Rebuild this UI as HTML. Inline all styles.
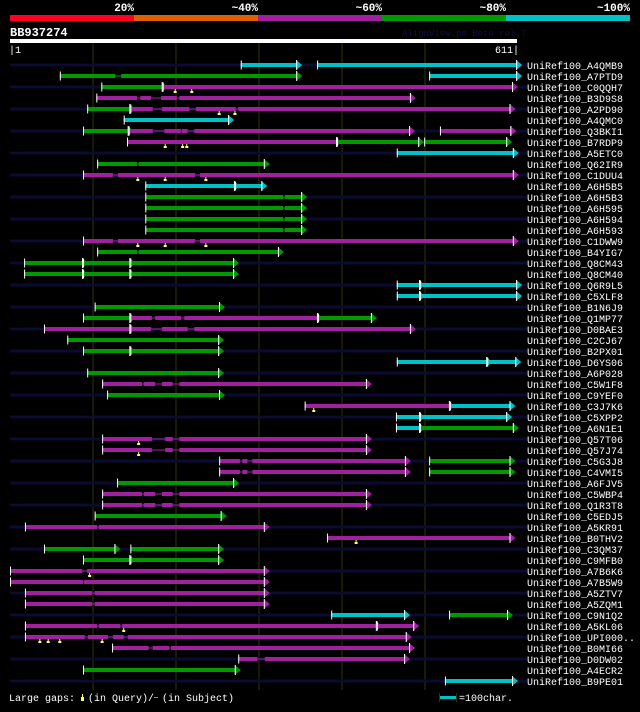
<!DOCTYPE html>
<html><head><meta charset="utf-8"><style>
body{margin:0;background:#000;width:640px;height:707px;overflow:hidden}
svg text{font-family:"Liberation Mono",monospace}
</style></head><body>
<svg id="chart" width="640" height="707" xmlns="http://www.w3.org/2000/svg">
<rect x="0" y="0" width="640" height="707" fill="#000"/>
<g>
<rect x="10" y="15" width="124" height="6" fill="#ff0022"/>
<rect x="134" y="15" width="124" height="6" fill="#e06000"/>
<rect x="258" y="15" width="124" height="6" fill="#a020a0"/>
<rect x="382" y="15" width="124" height="6" fill="#009900"/>
<rect x="506" y="15" width="124" height="6" fill="#00c0c8"/>
<g font-size="11" font-weight="bold" fill="#fff" text-anchor="end">
<text x="134" y="11">20%</text><text x="258" y="11">~40%</text><text x="382" y="11">~60%</text><text x="506" y="11">~80%</text><text x="630" y="11">~100%</text>
</g></g>
<text x="10" y="36" font-size="12" font-weight="bold" fill="#fff">BB937274</text>
<text x="402" y="36" font-size="9" fill="#101048">AlignView.pm Beta rel.7</text>
<rect x="10" y="39" width="507" height="4" fill="#fff"/>
<text x="9" y="53" font-size="10" fill="#fff">|1</text>
<text x="519" y="53" font-size="10" fill="#fff" text-anchor="end">611|</text>
<g id="grid"></g>
<g id="rows"></g>
<g font-size="10" fill="#fff">
<text x="9" y="701">Large gaps:</text>
<rect x="81" y="697" width="3" height="4" fill="#ffff66"/><rect x="82" y="694" width="1" height="3" fill="#ffff66"/>
<text x="88" y="701">(in Query)/</text>
<rect x="154" y="697" width="4" height="1" fill="#00c0c8"/>
<text x="162" y="701">(in Subject)</text>
<rect x="440" y="696" width="16" height="3" fill="#00c0c8"/>
<rect x="439" y="693" width="1" height="9" fill="#333300"/><rect x="456" y="693" width="1" height="9" fill="#333300"/>
<text x="459" y="701">=100char.</text>
</g>
</svg>
<script>
const names=["A4QMB9","A7PTD9","C0QQH7","B3D9S8","A2PD90","A4QMC0","Q3BKI1","B7RDP9","A5ETC0","Q62IR9","C1DUU4","A6H5B5","A6H5B3","A6H595","A6H594","A6H593","C1DWW9","B4YIG7","Q8CM43","Q8CM40","Q6R9L5","C5XLF8","B1N6J9","Q1MP77","D0BAE3","C2CJ67","B2PX01","D6YS06","A6P028","C5W1F8","C9YEF0","C3J7K6","C5XPP2","A6N1E1","Q57T06","Q57J74","C5G3J8","C4VMI5","A6FJV5","C5WBP4","Q1R3T8","C5EDJ5","A5KR91","B0THV2","C3QM37","C9MFB0","A7B6K6","A7B5W9","A5ZTV7","A5ZQM1","C9N1Q2","A5KL06","UPI000..","B0MI66","D0DW02","A4ECR2","B9PE01"];
// segments: [colorKey, [[start,end],...]] in query residue positions
const M="m",G="g",C="c";
const segs=[
[[C,[[278,346]]],[C,[[370,611]]]],
[[G,[[60,127],[134,346]]],[C,[[505,611]]]],
[[G,[[110,184]]],[M,[[184,606]]]],
[[M,[[104,153],[157,170],[182,201],[204,483]]]],
[[G,[[93,145]]],[M,[[145,172],[183,216],[224,272],[275,603]]]],
[[C,[[137,264]]]],
[[G,[[88,143]]],[M,[[143,172],[186,206],[207,214],[222,482]]],[M,[[518,604]]]],
[[M,[[141,394]]],[G,[[394,493]]],[G,[[499,599]]]],
[[C,[[466,607]]]],
[[G,[[105,153],[155,307]]]],
[[M,[[88,124],[130,223],[229,607]]]],
[[C,[[163,271]]],[C,[[271,304]]]],
[[G,[[163,329],[331,352]]]],
[[G,[[163,329],[331,352]]]],
[[G,[[163,329],[331,352]]]],
[[G,[[163,329],[331,352]]]],
[[M,[[88,124],[130,223],[229,607]]]],
[[G,[[105,153],[155,324]]]],
[[G,[[17,88]]],[G,[[88,145]]],[G,[[145,270]]]],
[[G,[[17,88]]],[G,[[88,145]]],[G,[[145,270]]]],
[[C,[[466,494]]],[C,[[494,611]]]],
[[C,[[466,494]]],[C,[[494,611]]]],
[[G,[[102,253]]]],
[[G,[[88,145]]],[M,[[145,171],[175,206],[210,371]]],[G,[[371,436]]]],
[[M,[[41,145]]],[M,[[145,170],[183,214],[222,483]]]],
[[G,[[69,252]]]],
[[G,[[88,145]]],[G,[[145,252]]]],
[[C,[[466,575]]],[C,[[575,610]]]],
[[G,[[93,252]]]],
[[M,[[111,159],[161,175],[183,196],[204,430]]]],
[[G,[[117,253]]]],
[[M,[[355,530]]],[C,[[530,603]]]],
[[C,[[465,494]]],[C,[[494,599]]]],
[[C,[[465,494]]],[G,[[494,607]]]],
[[M,[[111,171],[187,196],[204,430]]]],
[[M,[[111,171],[187,196],[204,430]]]],
[[M,[[252,277],[280,286],[292,477]]],[G,[[505,603]]]],
[[M,[[252,277],[280,286],[292,477]]],[G,[[505,603]]]],
[[G,[[129,270]]]],
[[M,[[111,159],[161,175],[183,196],[204,430]]]],
[[M,[[111,159],[161,175],[183,196],[204,430]]]],
[[G,[[102,255]]]],
[[M,[[18,105],[107,307]]]],
[[M,[[382,603]]]],
[[G,[[41,127]]],[G,[[145,252]]]],
[[G,[[88,145]]],[G,[[145,252]]]],
[[M,[[0,87],[93,307]]]],
[[M,[[0,88],[89,307]]]],
[[M,[[18,99],[102,307]]]],
[[M,[[18,99],[102,307]]]],
[[C,[[387,476]]],[G,[[529,600]]]],
[[M,[[18,105],[107,133],[135,442]]],[M,[[442,487]]]],
[[M,[[18,90],[94,118],[124,137],[142,478]]]],
[[M,[[123,167],[172,192],[194,482]]]],
[[M,[[275,298],[307,476]]]],
[[G,[[88,272]]]],
[[C,[[524,606]]]]
];
// large query gap markers (residue positions) per row
const marks=[[],[],[199,219],[],[252,271],[],[],[187,208,213],[],[],[154,187,236],[],[],[],[],[],[154,187,236],[],[],[],[],[],[],[],[],[],[],[],[],[],[],[366],[],[],[155],[155],[],[],[],[],[],[],[],[417],[],[],[96],[],[],[],[],[137],[36,46,60,111],[],[],[],[]];
const ticks=[0,100,200,300,400,500];
const colors={m:"#a020a0",g:"#009900",c:"#00c0c8"};
const X=p=>10+p*0.83;
const Y=i=>65+i*11;
const NS="http://www.w3.org/2000/svg";
function mk(t,a,par){const e=document.createElementNS(NS,t);for(const k in a)e.setAttribute(k,a[k]);par.appendChild(e);return e;}
const grid=document.getElementById('grid');
ticks.forEach(t=>{if(t===0)return;
const l=mk('rect',{x:X(t)-0.5,y:43,width:1,height:647,fill:'#333300'},grid);

});
const rows=document.getElementById('rows');
names.forEach((n,i)=>{
const y=Y(i);
const g=mk('g',{},rows);


if(i%2===0){mk('rect',{x:10,y:y-1.5,width:517,height:3,fill:'#0a0a32'},g);}
segs[i].forEach(s=>{
const col=colors[s[0]],p=s[1];
const s0=X(p[0][0]),e0=X(p[p.length-1][1]);
const a=mk('g',{},g);


mk('rect',{x:s0,y:y-0.5,width:e0-s0,height:1,fill:col},a);
p.forEach(q=>{mk('rect',{x:X(q[0]),y:y-2,width:X(q[1])-X(q[0]),height:4,fill:col},a);});
mk('rect',{x:s0,y:y-4.5,width:1,height:9,fill:'#fff'},a);
mk('polygon',{points:`${e0-1},${y-5} ${e0+5},${y} ${e0-1},${y+5}`,fill:col},a);
mk('rect',{x:e0-1,y:y-5,width:1,height:10,fill:'#fff'},a);
});
marks[i].forEach(m=>{
const mm=mk('g',{},g);


mk('rect',{x:X(m)-0.5,y:y+2,width:1,height:2,fill:'#ffff66'},mm);
mk('rect',{x:X(m)-1.5,y:y+4,width:3,height:2,fill:'#ffff66'},mm);
});
const t=mk('text',{x:527,y:y+4,'font-size':10,fill:'#fff'},g);
t.textContent='UniRef100_'+n;


});
</script>
</body></html>
